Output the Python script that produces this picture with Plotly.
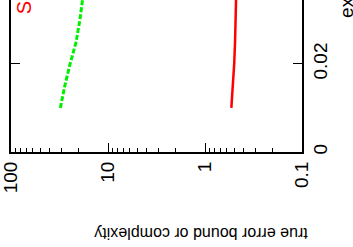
import plotly.graph_objects as go

# expected value (vertical axis) and bound / complexity (horizontal log axis)
expected = [0.010, 0.015, 0.020, 0.025, 0.030, 0.035]
green_bound = [31.0, 27.9, 24.6, 21.3, 19.5, 18.2]
red_bound = [0.535, 0.515, 0.50, 0.49, 0.483, 0.478]

x_ticks = [0.1, 1, 10, 100]
x_ticktext = ["0.1", "1", "10", "100"]
x_minor = [m * d for d in (0.1, 1, 10) for m in range(2, 10)]
y_ticks = [0, 0.02, 0.04]
y_ticktext = ["0", "0.02", "0.04"]

FONT = "Liberation Sans, Arial, Helvetica, sans-serif"

fig = go.Figure()
fig.add_trace(go.Scatter(x=red_bound, y=expected, mode="lines",
                         line=dict(color="#ff0000", width=2.5), showlegend=False))
fig.add_trace(go.Scatter(x=green_bound, y=expected, mode="lines",
                         line=dict(color="#00ee00", width=3, dash="5px,2px"), showlegend=False))

fig.update_layout(
    width=353, height=247,
    margin=dict(l=7, r=51, t=0, b=95),
    plot_bgcolor="white", paper_bgcolor="white",
    font=dict(family=FONT, color="black"),
    xaxis=dict(type="log", autorange=False, range=[2.0002, -1],
               tickvals=x_ticks, ticktext=x_ticktext, tickangle=-90,
               ticklabeloverflow="allow",
               ticks="inside", ticklen=9, tickcolor="black", tickwidth=1,
               showline=True, linecolor="black", linewidth=2,
               showgrid=False, zeroline=False, tickfont=dict(size=19),
               minor=dict(tickvals=x_minor, ticks="inside", ticklen=4,
                          tickcolor="black", showgrid=False)),
    yaxis=dict(range=[0, 0.0345], side="right",
               tickvals=y_ticks, ticktext=y_ticktext, tickangle=-90,
               ticklabeloverflow="allow",
               ticks="inside", ticklen=9, tickcolor="black", tickwidth=1,
               showline=True, linecolor="black", linewidth=2, mirror="ticks",
               showgrid=False, zeroline=False, tickfont=dict(size=19)),
    annotations=[
        dict(text="true error bound or complexity", xref="paper", yref="paper",
             x=(200 - 7) / 295, y=(152 - 234) / 152, textangle=180,
             xanchor="center", yanchor="middle",
             showarrow=False, font=dict(size=16, family=FONT, color="black")),
        dict(text="expected error", xref="paper", yref="paper",
             x=(347 - 7) / 295, y=(152 - 20) / 152, textangle=-90,
             xanchor="center", yanchor="bottom",
             showarrow=False, font=dict(size=19, family=FONT, color="black")),
        dict(text="S", xref="paper", yref="paper",
             x=(21 - 7) / 295, y=(152 - 16) / 152, textangle=-90,
             xanchor="center", yanchor="bottom",
             showarrow=False, font=dict(size=20, family=FONT, color="#ff0000")),
    ],
)

fig.write_html("out.html")
